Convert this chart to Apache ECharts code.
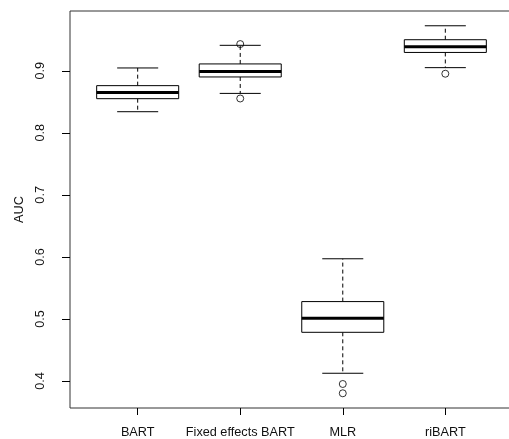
<!DOCTYPE html>
<html>
<head>
<meta charset="utf-8">
<script src="https://cdn.jsdelivr.net/npm/echarts@6/dist/echarts.min.js"></script>
<style>
  html, body { margin: 0; padding: 0; background: #fff; }
  #chart { width: 509px; height: 439px; }
</style>
</head>
<body>
<div id="chart"></div>
<script>
var categories = ['BART', 'Fixed effects BART', 'MLR', 'riBART'];
var lowerWhisker = [0.834, 0.8635, 0.4125, 0.905];
var q1 = [0.855, 0.890, 0.4785, 0.9295];
var median = [0.865, 0.899, 0.501, 0.9387];
var q3 = [0.876, 0.911, 0.528, 0.950];
var upperWhisker = [0.9045, 0.941, 0.597, 0.9725];
// outliers as [category position (1-based), value]
var outliers = [[2, 0.943], [2, 0.8553], [3, 0.3952], [3, 0.3802], [4, 0.8952]];
var yTicks = [0.4, 0.5, 0.6, 0.7, 0.8, 0.9];
var xTicks = [1, 2, 3, 4];

var boxData = [];
for (var i = 0; i < categories.length; i++) {
  boxData.push([i + 1, lowerWhisker[i], q1[i], median[i], q3[i], upperWhisker[i]]);
}

function renderBox(params, api) {
  var x = api.value(0);
  var lo = api.coord([x, api.value(1)]);
  var b1 = api.coord([x, api.value(2)]);
  var md = api.coord([x, api.value(3)]);
  var b3 = api.coord([x, api.value(4)]);
  var hi = api.coord([x, api.value(5)]);
  var halfBox = api.size([0.8, 0])[0] / 2;
  var halfCap = halfBox / 2;
  var cx = lo[0];
  var line = { stroke: '#000', lineWidth: 1, fill: null };
  var dashed = { stroke: '#000', lineWidth: 1, lineDash: [4, 3], fill: null };
  return {
    type: 'group',
    children: [
      { type: 'line', shape: { x1: cx, y1: b3[1], x2: cx, y2: hi[1] }, style: dashed },
      { type: 'line', shape: { x1: cx, y1: b1[1], x2: cx, y2: lo[1] }, style: dashed },
      { type: 'line', shape: { x1: cx - halfCap, y1: hi[1], x2: cx + halfCap, y2: hi[1] }, style: line },
      { type: 'line', shape: { x1: cx - halfCap, y1: lo[1], x2: cx + halfCap, y2: lo[1] }, style: line },
      { type: 'rect', shape: { x: cx - halfBox, y: b3[1], width: halfBox * 2, height: b1[1] - b3[1] },
        style: { fill: '#fff', stroke: '#000', lineWidth: 1 } },
      { type: 'line', shape: { x1: cx - halfBox, y1: md[1], x2: cx + halfBox, y2: md[1] },
        style: { stroke: '#000', lineWidth: 3 } }
    ]
  };
}

var chart = echarts.init(document.getElementById('chart'));
chart.setOption({
  animation: false,
  textStyle: { fontFamily: 'Liberation Sans, Arial, sans-serif' },
  grid: {
    left: 70, top: 11, right: -4, bottom: 31,
    outerBoundsMode: 'none', containLabel: false,
    show: true, borderColor: '#333', borderWidth: 1, backgroundColor: 'transparent'
  },
  xAxis: {
    type: 'value',
    min: 0.34, max: 4.66,
    splitLine: { show: false },
    axisLine: { show: false },
    axisTick: { show: true, length: 7, customValues: xTicks, lineStyle: { color: '#000' } },
    axisLabel: {
      customValues: xTicks, margin: 18, fontSize: 12.7, color: '#111',
      formatter: function (v) { return categories[Math.round(v) - 1]; }
    }
  },
  yAxis: {
    type: 'value',
    min: 0.3565, max: 0.9963,
    name: 'AUC', nameLocation: 'middle', nameRotate: 90, nameGap: 34,
    nameTextStyle: { fontSize: 12.7, color: '#111' },
    splitLine: { show: false },
    axisLine: { show: false },
    axisTick: { show: true, length: 8, customValues: yTicks, lineStyle: { color: '#000' } },
    axisLabel: {
      customValues: yTicks, rotate: 90, margin: 23, fontSize: 12.7, color: '#111',
      formatter: function (v) { return String(v); }
    }
  },
  series: [
    {
      type: 'custom',
      renderItem: renderBox,
      data: boxData,
      encode: { x: 0, y: [1, 2, 3, 4, 5] }
    },
    {
      type: 'scatter',
      data: outliers,
      symbol: 'circle',
      symbolSize: 7,
      itemStyle: { color: 'transparent', borderColor: '#000', borderWidth: 1 }
    }
  ]
});
</script>
</body>
</html>
